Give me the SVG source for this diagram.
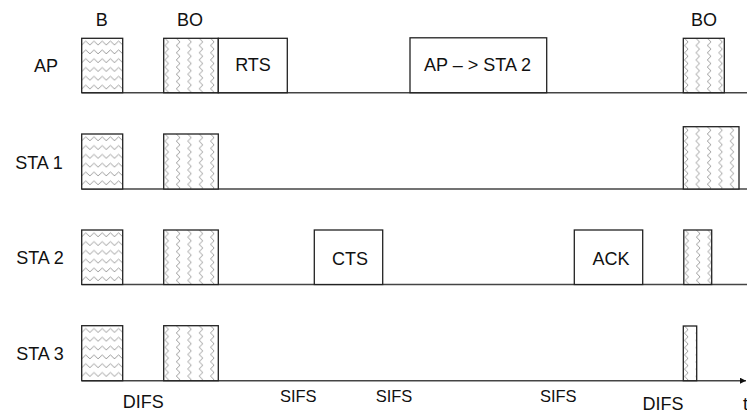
<svg xmlns="http://www.w3.org/2000/svg" width="747" height="414" viewBox="0 0 747 414">
  <style>
    .lbl { font-family: "Liberation Sans", Arial, sans-serif; font-size: 18px; fill: #111; }
    .sm { font-size: 16.5px; }
    .frame { fill: #fff; stroke: #222; stroke-width: 1.3; }
    .hatch { stroke: #222; stroke-width: 1.3; }
    .axis { stroke: #444; stroke-width: 1.4; fill: none; }
    .zz { fill: none; stroke: #959595; stroke-width: 0.9; }
  </style>
  <defs>
    <!-- horizontal zigzag fill (beacon) -->
    <pattern id="zigH" patternUnits="userSpaceOnUse" width="8.2" height="8.8">
      <rect width="8.2" height="8.8" fill="#fff"/>
      <path class="zz" d="M-0.3,7 L4.1,2.8 L8.5,7"/>
    </pattern>
    <!-- vertical zigzag fill (backoff) -->
    <pattern id="zigV" patternUnits="userSpaceOnUse" width="11.4" height="7.2">
      <rect width="11.4" height="7.2" fill="#fff"/>
      <path class="zz" d="M1,-0.3 L4.8,3.6 L1,7.5"/>
    </pattern>
    <marker id="arrow" viewBox="0 0 10 10" refX="10" refY="5" markerWidth="8" markerHeight="6" markerUnits="userSpaceOnUse" orient="auto">
      <path d="M0,0 L10,5 L0,10 Z" fill="#111"/>
    </marker>
  </defs>

  <!-- time axes for each station -->
  <g id="connectors">
    <line class="axis" x1="81.7" y1="92.7" x2="747" y2="92.7"/>
    <line class="axis" x1="81.7" y1="189" x2="747" y2="189"/>
    <line class="axis" x1="81.7" y1="284.5" x2="747" y2="284.5"/>
    <line class="axis" x1="81.7" y1="380.7" x2="746" y2="380.7" marker-end="url(#arrow)"/>
  </g>

  <!-- row labels -->
  <g id="row-labels">
    <text class="lbl" x="46" y="72" text-anchor="middle">AP</text>
    <text class="lbl" x="39" y="169" text-anchor="middle">STA 1</text>
    <text class="lbl" x="40" y="263.5" text-anchor="middle">STA 2</text>
    <text class="lbl" x="40" y="360" text-anchor="middle">STA 3</text>
  </g>

  <!-- column headings -->
  <g id="headings">
    <text class="lbl" x="101.7" y="25.5" text-anchor="middle">B</text>
    <text class="lbl" x="190" y="25.5" text-anchor="middle">BO</text>
    <text class="lbl" x="704" y="25.5" text-anchor="middle">BO</text>
  </g>

  <!-- AP row -->
  <g id="ap-beacon" transform="translate(81.7,38.3)"><rect class="hatch" width="41" height="54.4" fill="url(#zigH)"/></g>
  <g id="ap-backoff" transform="translate(163.7,38.3)"><rect class="hatch" width="54.6" height="54.4" fill="url(#zigV)"/></g>
  <g id="ap-rts">
    <rect class="frame" x="218.3" y="38.3" width="69" height="54.4"/>
    <text class="lbl" x="253" y="70.7" text-anchor="middle">RTS</text>
  </g>
  <g id="ap-data">
    <rect class="frame" x="410" y="37.8" width="136.7" height="54.9"/>
    <text class="lbl" x="477.5" y="70.5" text-anchor="middle">AP – &gt; STA 2</text>
  </g>
  <g id="ap-backoff2" transform="translate(683.3,38.3)"><rect class="hatch" width="41" height="54.4" fill="url(#zigV)"/></g>

  <!-- STA 1 row -->
  <g id="sta1-beacon" transform="translate(81.7,134)"><rect class="hatch" width="41" height="55" fill="url(#zigH)"/></g>
  <g id="sta1-backoff" transform="translate(163.7,134)"><rect class="hatch" width="54.6" height="55" fill="url(#zigV)"/></g>
  <g id="sta1-backoff2" transform="translate(683.3,126.7)"><rect class="hatch" width="55.7" height="62.3" fill="url(#zigV)"/></g>

  <!-- STA 2 row -->
  <g id="sta2-beacon" transform="translate(81.7,230)"><rect class="hatch" width="41" height="54.5" fill="url(#zigH)"/></g>
  <g id="sta2-backoff" transform="translate(163.7,230)"><rect class="hatch" width="54.6" height="54.5" fill="url(#zigV)"/></g>
  <g id="sta2-cts">
    <rect class="frame" x="314.3" y="230" width="68.4" height="54.5"/>
    <text class="lbl" x="350" y="265" text-anchor="middle">CTS</text>
  </g>
  <g id="sta2-ack">
    <rect class="frame" x="574.3" y="230" width="68.4" height="54.5"/>
    <text class="lbl" x="611" y="264.5" text-anchor="middle">ACK</text>
  </g>
  <g id="sta2-backoff2" transform="translate(683.8,230)"><rect class="hatch" width="27.9" height="54.5" fill="url(#zigV)"/></g>

  <!-- STA 3 row -->
  <g id="sta3-beacon" transform="translate(81.7,325.7)"><rect class="hatch" width="41" height="55" fill="url(#zigH)"/></g>
  <g id="sta3-backoff" transform="translate(163.7,325.7)"><rect class="hatch" width="54.6" height="55" fill="url(#zigV)"/></g>
  <g id="sta3-backoff2" transform="translate(683.3,326)"><rect class="hatch" width="13.4" height="54.7" fill="url(#zigV)"/></g>

  <!-- interframe spacing labels -->
  <g id="spacing-labels">
    <text class="lbl" x="143.3" y="408" text-anchor="middle">DIFS</text>
    <text class="lbl sm" x="298.3" y="401.5" text-anchor="middle">SIFS</text>
    <text class="lbl sm" x="394" y="401.5" text-anchor="middle">SIFS</text>
    <text class="lbl sm" x="558.3" y="401.5" text-anchor="middle">SIFS</text>
    <text class="lbl" x="663" y="409.5" text-anchor="middle">DIFS</text>
    <text class="lbl" x="743" y="409.5">t</text>
  </g>
</svg>
